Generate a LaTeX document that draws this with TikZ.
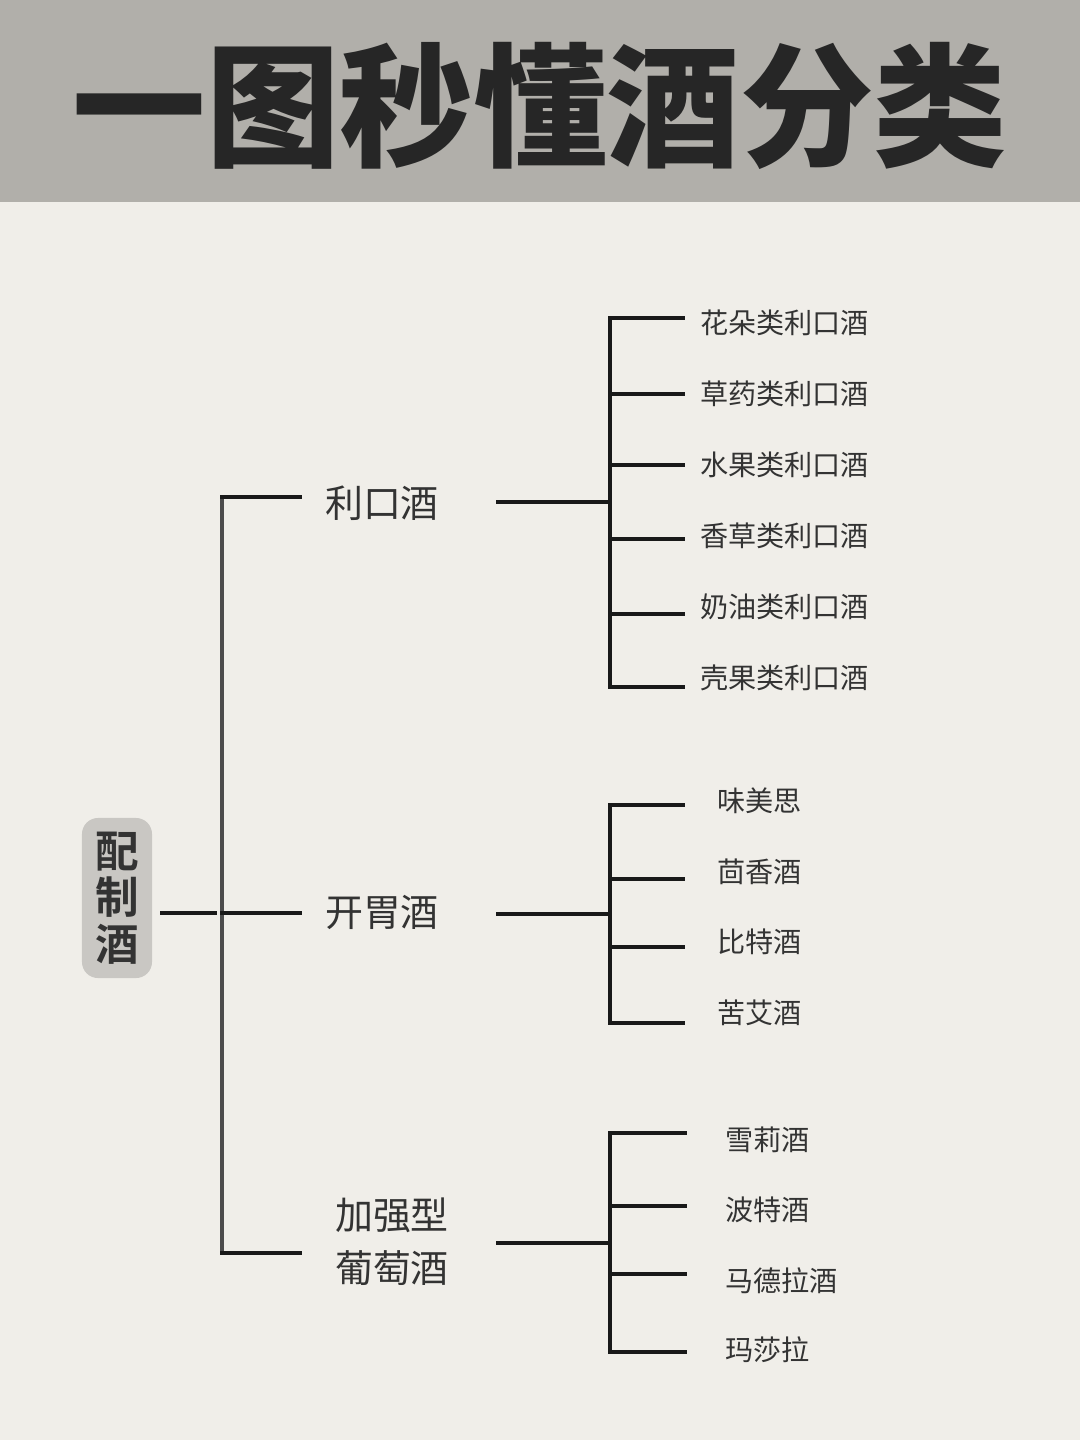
\documentclass[tikz,border=0pt]{standalone}
\usepackage{fontspec}
\newfontfamily\cjk{Noto Sans CJK SC}
\newfontfamily\cjkbold{Noto Sans CJK SC Bold}
\newfontfamily\cjkblack{Noto Sans CJK SC Black}
\usepackage{tikz}
\usetikzlibrary{positioning, calc}
\definecolor{paper}{HTML}{F0EEE9}
\definecolor{band}{HTML}{B1AFAA}
\definecolor{rootgray}{HTML}{C9C7C3}
\definecolor{ink}{HTML}{333333}
\tikzstyle{branch}=[line width=2.8pt, draw=black!90, line cap=rect]
\tikzstyle{spine}=[line width=2.2pt, draw=black!70, line cap=rect]
\tikzstyle{titletext}=[font=\cjkblack\fontsize{95}{95}\selectfont, text=black!85, inner sep=0pt]
\tikzstyle{rootbox}=[rectangle, rounded corners=0.4cm, fill=rootgray, minimum width=1.75cm, minimum height=4cm, align=center, font=\cjkbold\fontsize{31}{33}\selectfont, text=ink, inner sep=0pt]
\tikzstyle{category}=[align=center, font=\cjk\fontsize{27}{37.5}\selectfont, text=ink, inner sep=0pt]
\tikzstyle{leaf}=[anchor=west, font=\cjk\fontsize{20}{20}\selectfont, text=ink, inner sep=0pt]

\begin{document}
\begin{tikzpicture}[x=0.025cm, y=-0.025cm]
        \useasboundingbox (0,0) rectangle (1080,1440);
        \fill[paper] (0,0) rectangle (1080,1440);
        \fill[band] (0,0) rectangle (1080,202);
        \node[titletext] (title) at (540,106) {一图秒懂酒分类};

        % Draw the root and the spine
        \node[rootbox] (root) at (117,898) {配\\制\\酒};
        \coordinate (s1) at (222,497);
        \coordinate (s2) at (222,913);
        \coordinate (s3) at (222,1253);
        \draw[spine] (s1) -- (s3);
        \draw[branch] ([xshift=0.25cm]root.east |- s2) -- ([xshift=-0.175cm]s2);

        % Draw the categories
        \node[category] (liqueur) at (382,503) {利口酒};
        \node[category] (aperitif) at (382,912) {开胃酒};
        \node[category] (fortified) at (392,1242) {加强型\\葡萄酒};
        \coordinate (g1) at (610,502);
        \coordinate (g2) at (610,914);
        \coordinate (g3) at (610,1243);
        \foreach \s/\g in {s1/g1, s2/g2, s3/g3} {
            \draw[branch] (\s) -- ([xshift=1.95cm]\s);
            \draw[branch] ([xshift=-2.8cm]\g) -- (\g);
        }

        % Liqueurs
        \coordinate (g1 top) at (610,318);
        \coordinate (g1 bottom) at (610,687);
        \draw[branch] (g1 top) -- (g1 bottom);
        \foreach \n/\t/\ty/\ly in {flower/花朵类利口酒/323/318, herb/草药类利口酒/394/394, fruit/水果类利口酒/465/465, vanilla/香草类利口酒/536/539, cream/奶油类利口酒/607/614, nut/壳果类利口酒/678/687} {
            \node[leaf] (\n) at (700,\ty) {\t};
            \coordinate (\n tip) at (683,\ly);
            \draw[branch] (g1 |- \n tip) -- (\n tip);
        }

        % Aperitifs
        \coordinate (g2 top) at (610,805);
        \coordinate (g2 bottom) at (610,1023);
        \draw[branch] (g2 top) -- (g2 bottom);
        \foreach \n/\t/\ty/\ly in {vermouth/味美思/801/805, anise/茴香酒/872/879, bitters/比特酒/942/947, absinthe/苦艾酒/1013/1023} {
            \node[leaf] (\n) at (717,\ty) {\t};
            \coordinate (\n tip) at (683,\ly);
            \draw[branch] (g2 |- \n tip) -- (\n tip);
        }

        % Fortified wines
        \coordinate (g3 top) at (610,1133);
        \coordinate (g3 bottom) at (610,1352);
        \draw[branch] (g3 top) -- (g3 bottom);
        \foreach \n/\t/\ty/\ly in {sherry/雪莉酒/1140/1133, port/波特酒/1210/1206, madeira/马德拉酒/1281/1274, marsala/玛莎拉/1350/1352} {
            \node[leaf] (\n) at (725,\ty) {\t};
            \coordinate (\n tip) at (685,\ly);
            \draw[branch] (g3 |- \n tip) -- (\n tip);
        }
    \end{tikzpicture}
\end{document}
